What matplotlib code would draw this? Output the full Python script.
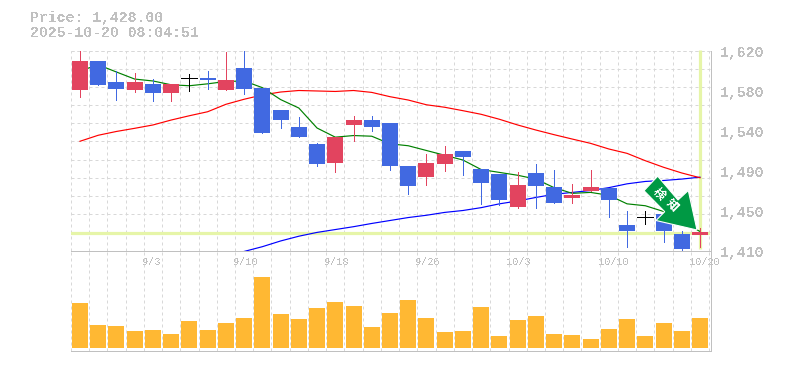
import matplotlib
matplotlib.use("Agg")
import matplotlib.pyplot as plt
from matplotlib.patches import Polygon
from matplotlib.transforms import IdentityTransform, ScaledTranslation, blended_transform_factory

plt.rcParams['font.family'] = ['Liberation Mono', 'Noto Sans CJK JP', 'DejaVu Sans']
plt.rcParams['text.antialiased'] = False

title_lines = ["Price: 1,428.00", "2025-10-20 08:04:51"]
opens = [1579,1609,1587,1579,1585,1575,1591,1591,1579,1602,1581,1557.5,1540,1522,1502,1542,1547,1544,1499,1487,1501,1514.5,1496,1490,1456,1491,1477,1465,1472.5,1476,1437,1445,1448,1427,1426]
closes = [1609,1584,1580,1587,1575,1585,1591,1589,1589,1580,1533,1547,1529,1501,1529,1547,1540,1499,1478,1502,1511,1508,1481,1463,1479,1478,1460,1468,1477,1463,1430,1445,1430,1412,1429]
highs = [1624,1609,1599,1596,1590,1585,1595,1598,1618,1624,1581,1557.5,1550,1523,1529,1551,1551,1544,1499,1511,1520,1514.5,1496,1490,1492,1501,1495,1480,1495,1476,1451,1452,1448,1430,1434]
lows = [1571,1584,1568,1576,1567,1567,1577,1580,1579,1574,1533,1539,1529,1499,1492,1525,1535,1495,1469,1479,1493,1489,1459,1458,1455,1455,1460,1460,1472,1445,1414,1438,1419,1410,1414]
ma_short = [1598.5,1605,1597.4,1590,1588,1584,1583,1585,1587.5,1588,1581,1568.5,1559.6,1538.6,1529,1530.7,1530,1522,1520,1515,1510,1505,1495,1492,1489,1485,1476,1470,1471,1468,1459,1457,1451,1440,1430]
ma_mid = [1524.7,1531,1535,1538.3,1541.8,1547,1551.5,1555.7,1563.5,1568.8,1573.3,1576.4,1578,1577.5,1577,1578,1576,1571.5,1568,1563,1560.4,1556.8,1553,1547.8,1541.8,1536.5,1531.6,1527,1522.5,1516.6,1512,1504.3,1497.4,1491.4,1486.4]
ma_long = [None]*9 + [1409,1414,1420,1425,1429,1432,1435,1438.4,1441.5,1444.6,1447,1450,1452,1455,1459,1462,1465.7,1469,1471,1473,1476,1480,1482.5,1483.5,1485,1487]
volumes = [45,23,22,17,18,14,27,18,25,30,71,34,29,40,46,42,21,35,48,30,16,17,41,12,28,32,14,13,9,19,29,12,25,17,30]
last_price = 1428
price_ticks = [1620,1578,1536,1494,1452,1410]
price_labels = ["1,620","1,580","1,540","1,490","1,450","1,410"]
date_idx = [4,9,14,19,24,29,34]
date_labels = ["9/3","9/10","9/18","9/26","10/3","10/10","10/20"]
signal_text = "検知"

RED, BLUE, BLACK = "#E2445F", "#4169E1", "#000000"
ORANGE = "#FFB833"
GRID, FRAME, TXT = "#D8D8D8", "#C0C0C0", "#C0C0C0"
PALE = "#E6F5A8"
LW = 0.72
DASH = (0, (3, 3))
W, H = 785, 370
fig = plt.figure(figsize=(W/100, H/100), dpi=100, facecolor="white")

L, R = 70.5, 710.5
def mkax(top, bot):
    return fig.add_axes([L/W, 1-bot/H, (R-L)/W, (bot-top)/H])
ax = mkax(50.5, 250.5)
vx = mkax(250.5, 350.5)
step = 18.235
xlim = ((L-80)/step, (R-80)/step)
n = len(closes)

for a in (ax, vx):
    a.set_xlim(*xlim)
    a.set_xticks([i-0.5 for i in range(n+1)])
    a.tick_params(length=0, labelbottom=False, labelleft=False)
    a.grid(True, axis="x", color=GRID, lw=LW, ls=DASH)
    a.set_axisbelow(True)
    a.set_facecolor("none")
    for s in a.spines.values():
        s.set_visible(False)

ax.set_ylim(1410, 1620)
ax.set_yticks([1410 + 210*k/11 for k in range(12)])
ax.grid(True, axis="y", color=GRID, lw=LW, ls=DASH)
vx.set_ylim(-2.5, 97.5)
vx.set_yticks([])

ax.axhline(1620, color=GRID, lw=LW, ls=DASH, zorder=1, clip_on=False)
ax.axhline(last_price, color=PALE, lw=2.3, zorder=1.5, xmax=(708-L)/(R-L))
ax.plot([n-1, n-1], [1621, 1412], color=PALE, lw=2.3, zorder=1.5, solid_capstyle="butt", clip_on=False)

xs = list(range(n))
ax.plot(xs, ma_long, color="#0000FF", lw=0.85, zorder=2)
ax.plot(xs, ma_mid, color="#FF0000", lw=0.85, zorder=2)
ax.plot(xs, ma_short, color="#008000", lw=0.85, zorder=2)

bw = 16/step
for i in xs:
    o, c, h, l = opens[i], closes[i], highs[i], lows[i]
    col = BLACK if o == c else (RED if c > o else BLUE)
    ax.plot([i, i], [l, h], color=col, lw=LW, zorder=3, solid_capstyle="butt", antialiased=False)
    if o == c:
        ax.plot([i-bw/2, i+bw/2], [o, o], color=col, lw=LW, zorder=3, solid_capstyle="butt", antialiased=False)
    else:
        ax.bar(i, abs(c-o), bottom=min(o, c), width=bw, color=col, lw=0, zorder=3)

vx.bar(xs, volumes, width=bw, color=ORANGE, lw=0, zorder=3)

# frame
for y in (250.5, 350.5):
    fig.add_artist(plt.Line2D([L/W, R/W], [1-y/H, 1-y/H], color=FRAME, lw=LW))
fig.add_artist(plt.Line2D([R/W, R/W], [1-50.5/H, 1-350.5/H], color=FRAME, lw=LW))

# text
px = IdentityTransform()
fig.text(30/W, 1-18/H, title_lines[0], color=TXT, fontsize=10.7, va="center", ha="left", fontweight="bold")
fig.text(30/W, 1-33/H, title_lines[1], color=TXT, fontsize=10.7, va="center", ha="left", fontweight="bold")
ytrans = blended_transform_factory(fig.transFigure, ax.transData)
off = ScaledTranslation(0, -2.5/100, fig.dpi_scale_trans)
for v, s in zip(price_ticks, price_labels):
    ax.text(720/W, v, s, color=TXT, fontsize=10.7, va="center", ha="left", fontweight="bold",
            transform=ytrans + off, clip_on=False)
xtrans = blended_transform_factory(ax.transData, fig.transFigure)
off2 = ScaledTranslation(-11/100, 0, fig.dpi_scale_trans)
for i, s in zip(date_idx, date_labels):
    ax.text(i, 1-262/H, s, color=TXT, fontsize=7.4, va="center", ha="left",
            transform=xtrans + off2, clip_on=False)

# signal arrow
pts = [(657.7,176.2),(644.0,190.7),(664.7,211.7),(656,220.5),(697,230),(688.3,190.5),(678,200)]
fig.add_artist(Polygon([(x, H-y) for x, y in pts], closed=True, facecolor="#009944",
                       edgecolor="white", lw=0.8, transform=px, zorder=10))
for ch, (x, y) in zip(signal_text, [(659,194),(672.5,204.5)]):
    fig.text(x/W, 1-y/H, ch, color="white", fontsize=8.5, rotation=-45, rotation_mode="anchor",
             ha="center", va="center", zorder=11, family=['Noto Sans CJK JP'], fontweight="bold")

fig.savefig("out.png", dpi=100, facecolor="white")
